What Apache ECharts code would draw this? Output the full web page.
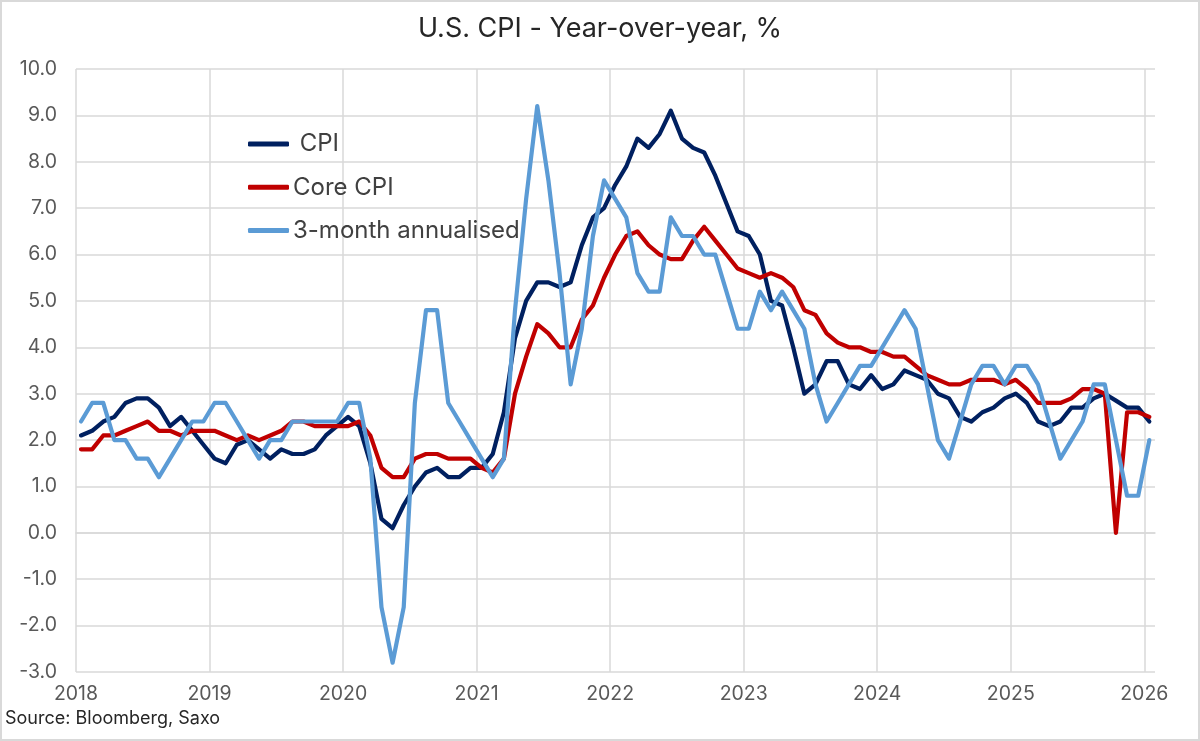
<!DOCTYPE html>
<html><head><meta charset="utf-8">
<script src="https://cdn.jsdelivr.net/npm/echarts@6/dist/echarts.min.js"></script>
<style>html,body{margin:0;padding:0;background:#fff}#c{width:1200px;height:741px}</style>
</head><body><div id="c"></div>
<script>
const chartTitle = 'U.S. CPI - Year-over-year, %';
const sourceNote = 'Source: Bloomberg, Saxo';
const startYear = 2018;
const yearTicks = [2018, 2019, 2020, 2021, 2022, 2023, 2024, 2025, 2026];
const seriesNames = ['CPI', 'Core CPI', '3-month annualised'];

// Monthly, Jan 2018 .. Jan 2026
const cpi = [
  2.1, 2.2, 2.4, 2.5, 2.8, 2.9, 2.9, 2.7, 2.3, 2.5, 2.2, 1.9,
  1.6, 1.5, 1.9, 2.0, 1.8, 1.6, 1.8, 1.7, 1.7, 1.8, 2.1, 2.3,
  2.5, 2.3, 1.5, 0.3, 0.1, 0.6, 1.0, 1.3, 1.4, 1.2, 1.2, 1.4,
  1.4, 1.7, 2.6, 4.2, 5.0, 5.4, 5.4, 5.3, 5.4, 6.2, 6.8, 7.0,
  7.5, 7.9, 8.5, 8.3, 8.6, 9.1, 8.5, 8.3, 8.2, 7.7, 7.1, 6.5,
  6.4, 6.0, 5.0, 4.9, 4.0, 3.0, 3.2, 3.7, 3.7, 3.2, 3.1, 3.4,
  3.1, 3.2, 3.5, 3.4, 3.3, 3.0, 2.9, 2.5, 2.4, 2.6, 2.7, 2.9,
  3.0, 2.8, 2.4, 2.3, 2.4, 2.7, 2.7, 2.9, 3.0, 2.85, 2.7, 2.7,
  2.4
];
const coreCpi = [
  1.8, 1.8, 2.1, 2.1, 2.2, 2.3, 2.4, 2.2, 2.2, 2.1, 2.2, 2.2,
  2.2, 2.1, 2.0, 2.1, 2.0, 2.1, 2.2, 2.4, 2.4, 2.3, 2.3, 2.3,
  2.3, 2.4, 2.1, 1.4, 1.2, 1.2, 1.6, 1.7, 1.7, 1.6, 1.6, 1.6,
  1.4, 1.3, 1.6, 3.0, 3.8, 4.5, 4.3, 4.0, 4.0, 4.6, 4.9, 5.5,
  6.0, 6.4, 6.5, 6.2, 6.0, 5.9, 5.9, 6.3, 6.6, 6.3, 6.0, 5.7,
  5.6, 5.5, 5.6, 5.5, 5.3, 4.8, 4.7, 4.3, 4.1, 4.0, 4.0, 3.9,
  3.9, 3.8, 3.8, 3.6, 3.4, 3.3, 3.2, 3.2, 3.3, 3.3, 3.3, 3.2,
  3.3, 3.1, 2.8, 2.8, 2.8, 2.9, 3.1, 3.1, 3.0, 0.0, 2.6, 2.6,
  2.5
];
const threeMonthAnnualised = [
  2.4, 2.8, 2.8, 2.0, 2.0, 1.6, 1.6, 1.2, 1.6, 2.0, 2.4, 2.4,
  2.8, 2.8, 2.4, 2.0, 1.6, 2.0, 2.0, 2.4, 2.4, 2.4, 2.4, 2.4,
  2.8, 2.8, 1.6, -1.6, -2.8, -1.6, 2.8, 4.8, 4.8, 2.8, 2.4, 2.0,
  1.6, 1.2, 1.6, 4.8, 7.2, 9.2, 7.6, 5.6, 3.2, 4.4, 6.4, 7.6,
  7.2, 6.8, 5.6, 5.2, 5.2, 6.8, 6.4, 6.4, 6.0, 6.0, 5.2, 4.4,
  4.4, 5.2, 4.8, 5.2, 4.8, 4.4, 3.2, 2.4, 2.8, 3.2, 3.6, 3.6,
  4.0, 4.4, 4.8, 4.4, 3.2, 2.0, 1.6, 2.4, 3.2, 3.6, 3.6, 3.2,
  3.6, 3.6, 3.2, 2.4, 1.6, 2.0, 2.4, 3.2, 3.2, 2.0, 0.8, 0.8,
  2.0
];

// Observation dates as decimal years (mid-month)
const dates = cpi.map((_, i) => startYear + Math.floor(i / 12) + ((i % 12) + 0.45) / 12);
const pairs = arr => arr.map((v, i) => [dates[i], v]);

const FONT = 'Inter, "Noto Sans", sans-serif';
const colors = ['#002060', '#C00000', '#5B9BD5'];
const chart = echarts.init(document.getElementById('c'), null, {renderer: 'canvas'});

const lineSeries = (name, data, color) => ({
  name, type: 'line', data: pairs(data), showSymbol: false, symbol: 'none',
  clip: false, animation: false,
  lineStyle: {color, width: 4.2, cap: 'round', join: 'round'},
  itemStyle: {color}
});

chart.setOption({
  animation: false,
  backgroundColor: '#ffffff',
  title: {
    text: chartTitle, left: 'center', top: 10,
    textStyle: {fontFamily: FONT, fontSize: 27, fontWeight: 'normal', color: '#262626'}
  },
  graphic: [
    {type: 'rect', shape: {x: 1, y: 1, width: 1198, height: 739},
     style: {fill: 'none', stroke: '#d9d9d9', lineWidth: 2}, silent: true, z: 100},
    {type: 'text', left: 5, top: 710,
     style: {text: sourceNote, fontFamily: FONT, fontSize: 18, fill: '#262626'}}
  ],
  legend: {
    orient: 'vertical', left: 243, top: 126, itemGap: 17.3,
    itemWidth: 41, itemHeight: 5, icon: 'roundRect',
    data: seriesNames,
    formatter: n => n === 'CPI' ? ' CPI' : n,
    textStyle: {fontFamily: FONT, fontSize: 24, color: '#404040', lineHeight: 26, padding: [0, 0, 0, -1]}
  },
  grid: {left: 76, right: 45, top: 69, bottom: 69, containLabel: false},
  xAxis: {
    type: 'value', min: yearTicks[0], max: 2026.08, interval: 1,
    axisLine: {show: true, lineStyle: {color: '#d9d9d9', width: 1.5}},
    axisTick: {show: false},
    axisLabel: {
      fontFamily: FONT, fontSize: 19.5, color: '#595959', margin: 12,
      showMaxLabel: false,
      formatter: v => yearTicks.includes(Math.round(v * 1000) / 1000) ? String(Math.round(v)) : ''
    },
    splitLine: {show: true, showMaxLine: false, lineStyle: {color: '#d9d9d9', width: 1.5}}
  },
  yAxis: {
    type: 'value', min: -3, max: 10, interval: 1,
    axisLine: {show: false}, axisTick: {show: false},
    axisLabel: {fontFamily: FONT, fontSize: 19.5, color: '#595959', margin: 19,
      formatter: v => v.toFixed(1)},
    splitLine: {show: true, lineStyle: {color: '#d9d9d9', width: 1.5}}
  },
  series: [
    lineSeries(seriesNames[0], cpi, colors[0]),
    lineSeries(seriesNames[1], coreCpi, colors[1]),
    lineSeries(seriesNames[2], threeMonthAnnualised, colors[2])
  ]
});
</script></body></html>
